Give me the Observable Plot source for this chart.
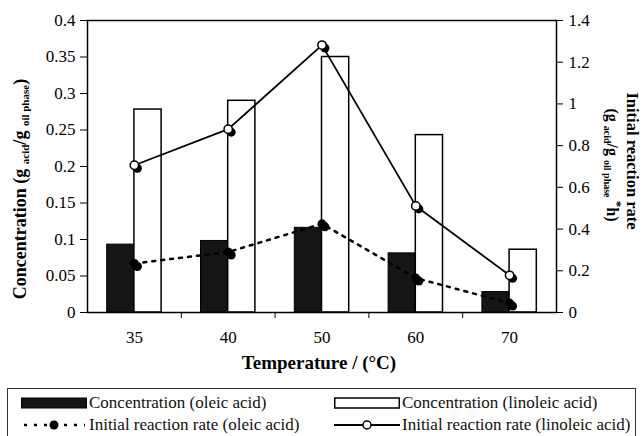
<!DOCTYPE html>
<html>
<head>
<meta charset="utf-8">
<script src="https://cdn.jsdelivr.net/npm/d3@7"></script>
<script src="https://cdn.jsdelivr.net/npm/@observablehq/plot@0.6"></script>
<style>
  html, body { margin: 0; padding: 0; background: #fff; }
  body { width: 642px; height: 436px; overflow: hidden; position: relative; font-family: "Liberation Serif", serif; }
  #chart svg, #chart svg text { font-family: "Liberation Serif", serif !important; }
  #legend { position: absolute; left: 7px; top: 388px; width: 629px; height: 60px; border: 1px solid #333; box-sizing: border-box; font-size: 17px; color: #111; font-family: "Liberation Serif", serif; }
  .item { position: absolute; display: flex; align-items: center; white-space: nowrap; }
  .item svg { margin-right: 2px; }
</style>
</head>
<body>
<div id="chart"></div>
<div id="legend"></div>
<script>
// ---- data ----
const temps = ["35", "40", "50", "60", "70"];
const concOleic = [0.093, 0.098, 0.116, 0.081, 0.028];
const concLinoleic = [0.278, 0.290, 0.350, 0.243, 0.086];
const rateOleic = [0.235, 0.29, 0.425, 0.165, 0.045];
const rateLinoleic = [0.706, 0.879, 1.282, 0.511, 0.178];
const leftTicks = [0, 0.05, 0.1, 0.15, 0.2, 0.25, 0.3, 0.35, 0.4];
const rightTicks = [0, 0.2, 0.4, 0.6, 0.8, 1.0, 1.2, 1.4];
const legendLabels = ["Concentration (oleic acid)", "Concentration (linoleic acid)",
  "Initial reaction rate (oleic acid)", "Initial reaction rate (linoleic acid)"];

const leftMax = 0.4, rightMax = 1.4;
const k = leftMax / rightMax;
const barW = 0.29;

const rows = temps.map((t, i) => ({
  i, t,
  co: concOleic[i], cl: concLinoleic[i],
  ro: rateOleic[i] * k, rl: rateLinoleic[i] * k
}));

const ff = "Liberation Serif, serif";

const chart = Plot.plot({
  width: 642,
  height: 384,
  marginTop: 20,
  marginBottom: 72,
  marginLeft: 87,
  marginRight: 86,
  style: { fontFamily: ff, fontSize: "17px", color: "#000", background: "#fff" },
  x: { type: "linear", domain: [-0.5, temps.length - 0.5] },
  y: { domain: [0, leftMax] },
  marks: [
    Plot.rectY(rows, { x1: d => d.i - barW, x2: d => d.i, y: "co", fill: "#151515", stroke: "#000", strokeWidth: 1 }),
    Plot.rectY(rows, { x1: d => d.i, x2: d => d.i + barW, y: "cl", fill: "#fff", stroke: "#000", strokeWidth: 1.5 }),
    Plot.line(rows, { x: "i", y: "ro", stroke: "#000", strokeWidth: 2.5, strokeDasharray: "3,6" }),
    Plot.line(rows, { x: "i", y: "rl", stroke: "#000", strokeWidth: 1.8 }),
    Plot.dot(rows, { x: "i", y: "ro", r: 4.5, fill: "#000", dx: 3, dy: 3 }),
    Plot.dot(rows, { x: "i", y: "ro", r: 4.5, fill: "#000" }),
    Plot.dot(rows, { x: "i", y: "rl", r: 4.5, fill: "#000", dx: 3, dy: 3 }),
    Plot.dot(rows, { x: "i", y: "rl", r: 4.2, fill: "#fff", stroke: "#000", strokeWidth: 1.5 }),
    Plot.frame({ stroke: "#000", strokeWidth: 1.5 }),
    Plot.axisY(leftTicks, { anchor: "left", tickSize: 7, tickPadding: 5, tickFormat: d => String(d), label: null, fontFamily: ff, fontSize: 17 }),
    Plot.axisY(rightTicks.map(v => v * k), { anchor: "right", tickSize: 6, tickPadding: 6, tickFormat: d => String(+(d / k).toFixed(2)), label: null, fontFamily: ff, fontSize: 17 }),
    Plot.axisX(temps.map((t, i) => i), { tickSize: 0, tickPadding: 18, tickFormat: i => temps[i], label: null, fontFamily: ff, fontSize: 17 }),
    Plot.axisX(d3.range(0.5, temps.length - 1), { tickSize: 6, tickFormat: () => "", label: null })
  ]
});
document.getElementById("chart").appendChild(chart);

// ---- axis titles with subscripts ----
const svg = d3.select(chart);

svg.append("text")
  .attr("x", 319).attr("y", 369)
  .attr("text-anchor", "middle").attr("font-family", ff).attr("font-weight", "bold").attr("font-size", 19)
  .attr("fill", "#000")
  .text("Temperature / (°C)");

function subText(g, parts) {
  parts.forEach(p => {
    const ts = g.append("tspan").text(p.t).attr("font-size", p.s);
    if (p.dy) ts.attr("dy", p.dy);
  });
}

const lt = svg.append("text")
  .attr("transform", "translate(26,189) rotate(-90)")
  .attr("text-anchor", "middle").attr("font-family", ff).attr("font-weight", "bold").attr("fill", "#000");
subText(lt, [
  { t: "Concentration (g ", s: 18 },
  { t: "acid", s: 11, dy: 3 },
  { t: "/g ", s: 18, dy: -3 },
  { t: "oil phase", s: 11, dy: 3 },
  { t: ")", s: 18, dy: -3 }
]);

svg.append("text")
  .attr("transform", "translate(627,161) rotate(90)")
  .attr("text-anchor", "middle").attr("font-family", ff).attr("font-weight", "bold").attr("font-size", 16.5)
  .attr("fill", "#000")
  .text("Initial reaction rate");

const rt = svg.append("text")
  .attr("transform", "translate(607,165) rotate(90)")
  .attr("text-anchor", "middle").attr("font-family", ff).attr("font-weight", "bold").attr("fill", "#000");
subText(rt, [
  { t: "(g ", s: 16 },
  { t: "acid", s: 10, dy: 3 },
  { t: "/g ", s: 16, dy: -3 },
  { t: "oil phase", s: 10, dy: 3 },
  { t: " *", s: 13, dy: -9 },
  { t: "h)", s: 16, dy: 6 }
]);

// ---- legend ----
const legend = document.getElementById("legend");
const sw = [
  `<svg width="66" height="12"><rect x="0.5" y="1" width="65" height="10" fill="#151515" stroke="#000"/></svg>`,
  `<svg width="66" height="12"><rect x="0.75" y="1" width="64.5" height="10" fill="#fff" stroke="#000" stroke-width="1.5"/></svg>`,
  `<svg width="66" height="12"><line x1="3" x2="64" y1="6" y2="6" stroke="#000" stroke-width="2.5" stroke-dasharray="3,7"/><circle cx="33" cy="6" r="4.5" fill="#000"/></svg>`,
  `<svg width="66" height="12"><line x1="0" x2="66" y1="6" y2="6" stroke="#000" stroke-width="1.8"/><circle cx="33" cy="6" r="4" fill="#fff" stroke="#000" stroke-width="1.5"/></svg>`
];
const pos = [[13, 4], [326, 4], [13, 26], [326, 26]];
legendLabels.forEach((lab, j) => {
  const d = document.createElement("div");
  d.className = "item";
  d.style.left = pos[j][0] + "px";
  d.style.top = pos[j][1] + "px";
  d.innerHTML = sw[j] + "<span>" + lab + "</span>";
  legend.appendChild(d);
});
</script>
</body>
</html>
